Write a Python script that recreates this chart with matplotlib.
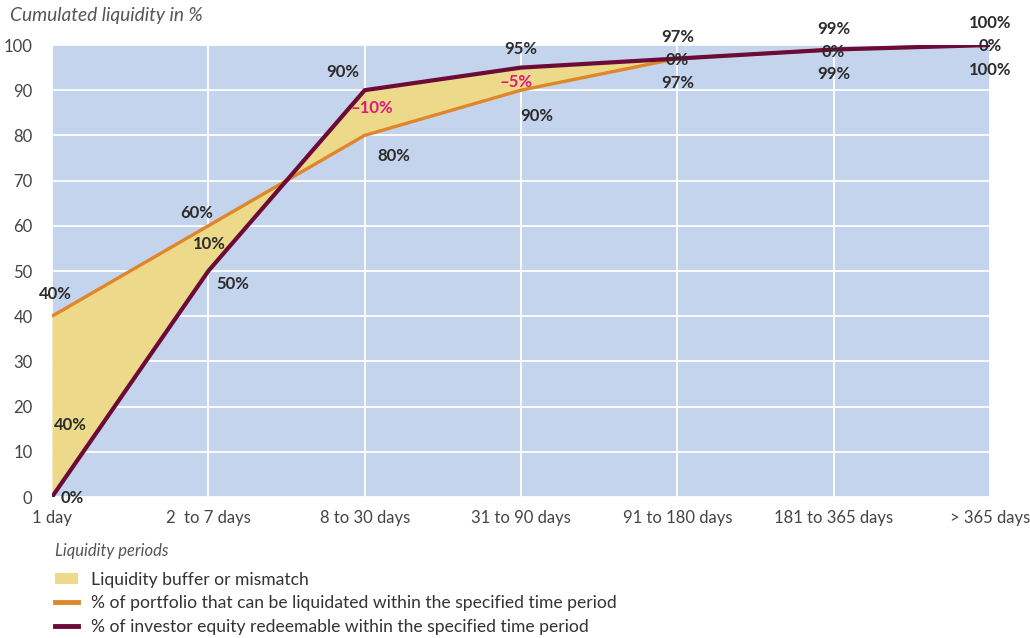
import matplotlib
matplotlib.use("Agg")
import matplotlib.pyplot as plt
from matplotlib.patches import Patch
from matplotlib.lines import Line2D

# Dados
periodos = ["1 day", "2  to 7 days", "8 to 30 days", "31 to 90 days",
            "91 to 180 days", "181 to 365 days", "> 365 days"]
portfolio = [40, 60, 80, 90, 97, 99, 100]
investidor = [0, 50, 90, 95, 97, 99, 100]
diferenca = [40, 10, -10, -5, 0, 0, 0]

COR_FUNDO = "#c5d4ed"
COR_BUFFER = "#ecd98a"
COR_PORTF = "#e0862a"
COR_INVEST = "#6c0a38"
COR_NEG = "#d81b7c"
COR_TEXTO = "#2b2b2b"

plt.rcParams["font.family"] = ["Lato", "DejaVu Sans"]

fig = plt.figure(figsize=(10.3, 6.38), dpi=100)
ax = fig.add_axes([52 / 1030, 1 - 497 / 638, 938 / 1030, 452 / 638])

x = list(range(len(periodos)))
ax.set_facecolor(COR_FUNDO)
for s in ax.spines.values():
    s.set_visible(False)

ax.set_xlim(0, len(periodos) - 1)
ax.set_ylim(0, 100)
ax.set_yticks(range(0, 101, 10))
ax.set_xticks(x)
ax.set_xticklabels(periodos)
ax.grid(True, color="white", linewidth=1.3)
ax.set_axisbelow(True)
ax.tick_params(length=0, labelsize=12, colors="#444444")
ax.tick_params(axis="y", pad=14)
ax.tick_params(axis="x", pad=9)

ax.fill_between(x, portfolio, investidor, color=COR_BUFFER, interpolate=True,
                zorder=2, linewidth=0)
ax.plot(x, portfolio, color=COR_PORTF, linewidth=2.4, zorder=3,
        solid_capstyle="butt")
ax.plot(x, investidor, color=COR_INVEST, linewidth=3.0, zorder=4,
        solid_capstyle="butt")

# deslocamentos (pixels) dos rotulos
desl_portf = [(3, 22), (-12, 13), (29, -21), (16, -26), (0, -24), (0, -24), (0, -25)]
desl_invest = [(20, -1), (24, -13), (-22, 18), (0, 19), (0, 22), (0, 21), (0, 22)]
desl_dif = [(18, 72), (1, 27), (7, -18), (-5, -14), (0, -1), (0, -2), (0, -1)]

fonte = dict(fontsize=12, ha="center", va="center", fontweight="bold",
             textcoords="offset pixels", zorder=6, annotation_clip=False)
for i in x:
    ax.annotate("%d%%" % portfolio[i], (i, portfolio[i]), xytext=desl_portf[i],
                color=COR_TEXTO, **fonte)
    ax.annotate("%d%%" % investidor[i], (i, investidor[i]), xytext=desl_invest[i],
                color=COR_TEXTO, **fonte)
    d = diferenca[i]
    texto = ("\u2013%d%%" % abs(d)) if d < 0 else "%d%%" % d
    ax.annotate(texto, (i, investidor[i]), xytext=desl_dif[i],
                color=COR_NEG if d < 0 else COR_TEXTO, **fonte)

fig.text(10 / 1030, 1 - 16 / 638, "Cumulated liquidity in %", fontsize=13.8,
         style="italic", color="#555555", va="center")
fig.text(55 / 1030, 1 - 551 / 638, "Liquidity periods", fontsize=12,
         style="italic", color="#555555", va="center")

handles = [
    Patch(facecolor=COR_BUFFER, edgecolor="none"),
    Line2D([0], [0], color=COR_PORTF, linewidth=3.5),
    Line2D([0], [0], color=COR_INVEST, linewidth=3.5),
]
rotulos = [
    "Liquidity buffer or mismatch",
    "% of portfolio that can be liquidated within the specified time period",
    "% of investor equity redeemable within the specified time period",
]
fig.legend(handles, rotulos, loc="upper left",
           bbox_to_anchor=(55 / 1030, 1 - 572 / 638), frameon=False,
           fontsize=12.6, handlelength=1.3, handleheight=0.6,
           labelspacing=0.42, handletextpad=0.75, labelcolor="#333333",
           borderaxespad=0, borderpad=0)

fig.savefig("out.png", dpi=100)
